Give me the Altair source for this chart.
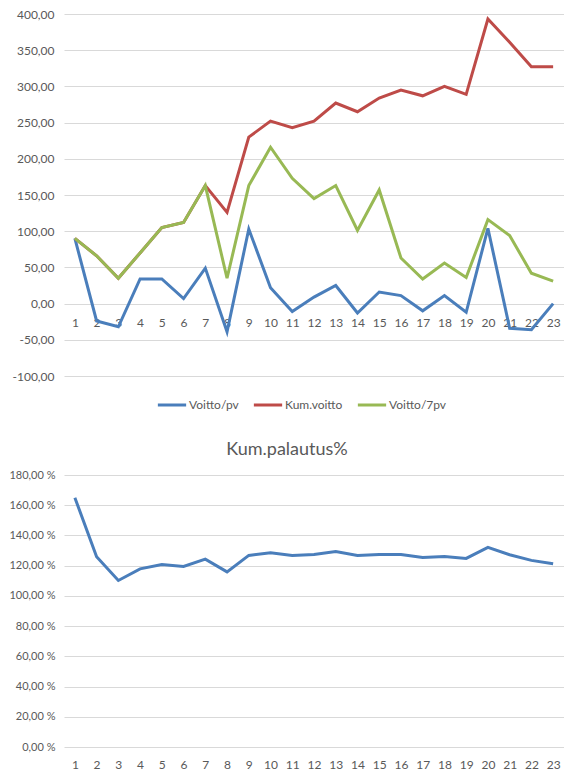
import altair as alt
import pandas as pd

days = list(range(1, 24))
voitto_pv = [90, -24, -32, 34, 34, 7, 49, -39, 103, 22, -11, 9, 25, -13, 16, 11, -10, 11, -12, 104, -34, -36, 0]
kum_voitto = [90, 66, 35, 70, 105, 112, 163, 126, 230, 252, 243, 252, 277, 265, 284, 295, 287, 300, 289, 393, 361, 327, 327]
voitto_7pv = [90, 66, 35, 70, 105, 112, 163, 35, 163, 216, 173, 145, 163, 101, 157, 63, 34, 56, 36, 116, 94, 42, 31]
kum_palautus = [165.0, 125.9, 110.2, 117.9, 120.8, 119.5, 124.3, 115.9, 126.8, 128.5, 126.8, 127.4, 129.4,
                126.8, 127.4, 127.4, 125.4, 126.1, 124.8, 132.1, 127.2, 123.5, 121.2]

series_names = ["Voitto/pv", "Kum.voitto", "Voitto/7pv"]
series_colors = ["#4A7EBB", "#BE4B48", "#98B954"]
top_ticks = [-100, -50, 0, 50, 100, 150, 200, 250, 300, 350, 400]
bottom_ticks = [0, 20, 40, 60, 80, 100, 120, 140, 160, 180]

rows = []
for name, vals in zip(series_names, [voitto_pv, kum_voitto, voitto_7pv]):
    for d, v in zip(days, vals):
        rows.append({"day": d, "value": v, "series": name, "order": series_names.index(name)})
top_df = pd.DataFrame(rows)
bottom_df = pd.DataFrame({"day": days, "value": kum_palautus})

FONT = "Lato"
TXT = "#595959"
GRID = "#D9D9D9"

TOP_W, TOP_H = 500, 362
BOT_W, BOT_H = 500, 272

top = alt.Chart(top_df).mark_line(strokeWidth=3).encode(
    x=alt.X("day:O", sort=days, scale=alt.Scale(type="point", padding=0.5),
            axis=alt.Axis(title=None, labelAngle=0, domain=False, ticks=False, grid=False,
                          offset=-TOP_H * 100 / 500, labelPadding=14, labelFont=FONT,
                          labelFontSize=12, labelColor=TXT)),
    y=alt.Y("value:Q", scale=alt.Scale(domain=[-100, 400], nice=False),
            axis=alt.Axis(title=None, values=top_ticks, domain=False, ticks=False,
                          gridColor=GRID, labelPadding=10, labelFont=FONT, labelFontSize=12,
                          labelColor=TXT,
                          labelExpr="replace(replace(format(datum.value, '.2f'), '.', ','), '\u2212', '-')")),
    color=alt.Color("series:N", scale=alt.Scale(domain=series_names, range=series_colors),
                    legend=alt.Legend(title=None, orient="none", direction="horizontal",
                                      legendX=92, legendY=375, symbolType="stroke",
                                      symbolSize=800, symbolStrokeWidth=3, columnPadding=8,
                                      labelFont=FONT, labelFontSize=12, labelColor=TXT,
                                      labelOffset=1)),
    order=alt.Order("order:Q"),
).properties(width=TOP_W, height=TOP_H)

bottom = alt.Chart(bottom_df).mark_line(strokeWidth=3, color="#4A7EBB").encode(
    x=alt.X("day:O", sort=days, scale=alt.Scale(type="point", padding=0.5),
            axis=alt.Axis(title=None, labelAngle=0, domain=False, ticks=False, grid=False,
                          labelPadding=12, labelFont=FONT, labelFontSize=12, labelColor=TXT)),
    y=alt.Y("value:Q", scale=alt.Scale(domain=[0, 180], nice=False),
            axis=alt.Axis(title=None, values=bottom_ticks, domain=False, ticks=False,
                          gridColor=GRID, labelPadding=9, labelFont=FONT, labelFontSize=11,
                          labelColor=TXT,
                          labelExpr="replace(format(datum.value, '.2f'), '.', ',') + ' %'")),
).properties(
    width=BOT_W, height=BOT_H,
    title=alt.TitleParams("Kum.palautus%", font=FONT, fontSize=18, fontWeight="normal",
                          color=TXT, offset=10, dx=-27),
)

chart = alt.vconcat(top, bottom, spacing=59).properties(
    padding={"left": 0, "top": 0, "right": 0, "bottom": 0}
).configure_view(stroke=None)

chart.save("out.html", embed_options={"renderer": "svg", "actions": False})
